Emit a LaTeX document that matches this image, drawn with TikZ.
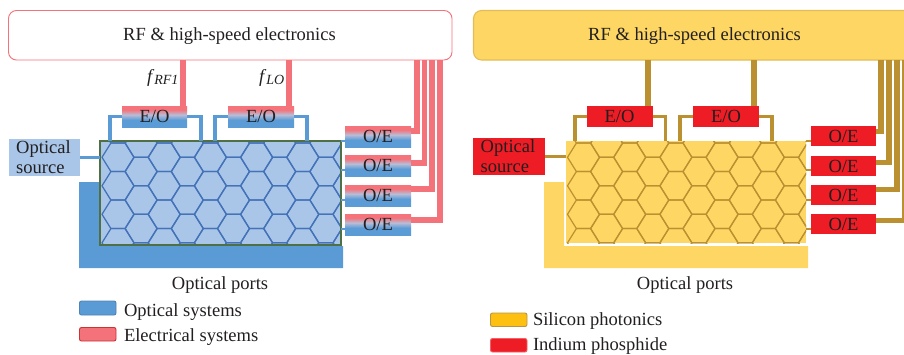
\documentclass[tikz,border=0pt]{standalone}
\usepackage{fontspec}
\setmainfont{Liberation Serif}
\usetikzlibrary{calc}
\definecolor{inkc}{HTML}{231F20}
\definecolor{optc}{HTML}{5B9BD5}
\definecolor{optl}{HTML}{A9C6E8}
\definecolor{elec}{HTML}{F4737A}
\definecolor{hexb}{HTML}{4472B8}
\definecolor{gold}{HTML}{FDD663}
\definecolor{goldb}{HTML}{E3BC58}
\definecolor{brn}{HTML}{BB9030}
\definecolor{inp}{HTML}{EE1C25}
\definecolor{sic}{HTML}{FDC010}
\definecolor{grnb}{HTML}{4F7045}
\pgfdeclareverticalshading{eograd}{100bp}{rgb(0bp)=(0.36,0.61,0.84);rgb(42bp)=(0.36,0.61,0.84);rgb(54bp)=(0.72,0.74,0.84);rgb(66bp)=(0.96,0.45,0.48);rgb(100bp)=(0.96,0.45,0.48)}
\newcommand{\pxbox}[7]{%
  \pgfmathsetmacro{\bw}{(#4-#2)*0.75}\pgfmathsetmacro{\bh}{(#5-#3)*0.75}%
  \node[#6,minimum width=\bw pt,minimum height=\bh pt] (#1) at ({(#2+#4)/2},{(#3+#5)/2}) {#7};}
\newcommand{\hexlat}[1]{%
  \foreach \k in {0,...,10}{%
    \pgfmathsetmacro{\cx}{#1+23.1*\k}%
    \pgfmathsetmacro{\off}{mod(\k,2)==0 ? 0 : 14.25}%
    \foreach \j in {-1,...,4}{%
      \pgfmathsetmacro{\cy}{157.3+\off+28.5*\j}%
      \draw[hexline] ({\cx-16},\cy) -- ({\cx-7.1},{\cy-14.25}) -- ({\cx+7.1},{\cy-14.25}) -- ({\cx+16},\cy) -- ({\cx+7.1},{\cy+14.25}) -- ({\cx-7.1},{\cy+14.25}) -- cycle;
    }}}
\newcommand{\srctext}{\begin{tabular}{@{}l@{}}Optical\\source\end{tabular}}
\tikzset{
  every node/.style={text=inkc,font=\fontsize{13.9}{14.6}\selectfont,inner sep=0pt,outer sep=0pt},
  eobox/.style={rectangle,shading=eograd},
  inpbox/.style={rectangle,fill=inp},
  srcl/.style={rectangle,fill=optl},
  srcr/.style={rectangle,fill=inp},
  elwire/.style={draw=elec,line width=4.4pt},
  opwire/.style={draw=optc,line width=2.4pt},
  opstub/.style={draw=optc,line width=1.7pt},
  brwire/.style={draw=brn,line width=4pt},
  brthin/.style={draw=brn,line width=2.4pt},
  brstub/.style={draw=brn,line width=1.7pt},
  hexline/.style={draw=hexb,line width=.95pt,line join=round},
  swatch/.style={rectangle,rounded corners=1.5pt,line width=.7pt},
  lbl/.style={anchor=base west},
}
\begin{document}
\begin{tikzpicture}[x=0.75pt,y=-0.75pt]
\useasboundingbox (0,0) rectangle (904,354);
% ---------- left panel
\fill[optc] (79,182) -- (99,182) -- (99,246) -- (343,246) -- (343,268) -- (79,268) -- cycle;
\pxbox{chipL}{100}{141}{341}{245}{rectangle,fill=optl}{}
\begin{scope}
\clip (100,141) rectangle (341,245);
\hexlat{118}
\end{scope}
\draw[grnb,line width=.8pt] (chipL.north west) rectangle (chipL.south east);
\pxbox{rfL}{8.5}{10.5}{452}{60}{rectangle,draw=elec,fill=white,rounded corners=6pt,line width=.7pt}{}
\node at (229.5,36) (rfLt) {RF \& high-speed electronics};
\pxbox{eoA}{122}{106}{187}{127}{eobox}{E/O}
\pxbox{eoB}{228}{106}{294}{127}{eobox}{E/O}
\foreach \n/\y in {oeA/126,oeB/155,oeC/185,oeD/214}{
  \pxbox{\n}{345}{\y}{411}{\y+21}{eobox}{O/E}
}
\pxbox{srcL}{9}{139}{80}{176}{srcl}{}
\node (srcLt) at (43.5,159.5) {\srctext};
\draw[elwire] (183,60) coordinate (a1) -- (a1 |- eoA.north);
\draw[elwire] (289,60) coordinate (a2) -- (a2 |- eoB.north);
\draw[opwire] (eoA.west) -| (110,141) coordinate (pa);
\draw[opwire] (eoA.east) -| (201,141);
\draw[opwire] (eoB.west) -| (215,141);
\draw[opwire] (eoB.east) -| (307,141);
\draw[draw=optc,line width=2.6pt] (srcL.east) -- (chipL.west |- srcL.east);
\foreach \n/\y in {oeA/141,oeB/170,oeC/200,oeD/229}{
  \draw[opstub] (341,\y) -- (\n.west |- 0,\y);
}
\draw[elwire,line join=miter] (417,60) -- (417,131) -- (oeA.east |- 0,131);
\draw[elwire,line join=miter] (424.5,60) -- (424.5,163) -- (oeB.east |- 0,163);
\draw[elwire,line join=miter] (432,60) -- (432,189) -- (oeC.east |- 0,189);
\draw[elwire,line join=miter] (440,60) -- (440,220) -- (oeD.east |- 0,220);
\node[anchor=base west] (fa) at (147,82) {\textit{f}\raisebox{-0.35ex}{\fontsize{10.5}{11}\selectfont\textit{RF1}}};
\node[anchor=base west] (fb) at (259,82) {\textit{f}\raisebox{-0.35ex}{\fontsize{10.5}{11}\selectfont\textit{LO}}};
\node (opL) at (220,285) {Optical ports};
\pxbox{swA}{79.5}{301}{116}{315}{swatch,fill=optc,draw=optc!85!black}{}
\pxbox{swB}{79.5}{327.5}{116}{341}{swatch,fill=elec,draw=red!75!black!80}{}
\node[lbl] (tA) at (124,316) {Optical systems};
\node[lbl] (tB) at (124,341.5) {Electrical systems};
% ---------- right panel
\fill[gold] (544,182) -- (564,182) -- (564,246) -- (808,246) -- (808,268) -- (544,268) -- cycle;
\pxbox{chipR}{566}{141}{806}{243}{rectangle,fill=gold}{}
\begin{scope}[hexline/.style={draw=brn,line width=.9pt,line join=round}]
\clip (566,141) rectangle (806,243);
\hexlat{583.5}
\end{scope}
\begin{scope}
\clip (0,0) rectangle (904,354);
\draw[goldb,fill=gold,line width=.8pt,rounded corners=6pt] (473.5,10.5) rectangle (920,60);
\end{scope}
\node (rfRt) at (694.5,36) {RF \& high-speed electronics};
\pxbox{eoC}{586.5}{106}{652.5}{127}{inpbox}{E/O}
\pxbox{eoE}{693}{106}{759}{127}{inpbox}{E/O}
\foreach \n/\y in {oeE/126,oeF/156,oeG/185,oeH/214}{
  \pxbox{\n}{811}{\y}{876}{\y+20}{inpbox}{O/E}
}
\pxbox{srcR}{473}{138}{544.5}{175}{srcr}{}
\node (srcRt) at (508,158.5) {\srctext};
\draw[brwire] (648,60) coordinate (b1) -- (b1 |- eoC.north);
\draw[brwire] (754,60) coordinate (b2) -- (b2 |- eoE.north);
\draw[brthin] (eoC.west) -| (575,141);
\draw[brthin] (eoC.east) -| (665.5,141);
\draw[brthin] (eoE.west) -| (680,141);
\draw[brthin] (eoE.east) -| (772,141);
\draw[draw=brn,line width=2.6pt] (srcR.east) -- (chipR.west |- srcR.east);
\foreach \n/\y in {oeE/141,oeF/170,oeG/200,oeH/229}{
  \draw[brstub] (806,\y) -- (\n.west |- 0,\y);
}
\draw[brwire] (881,60) -- (881,131.5) -- (oeE.east |- 0,131.5);
\draw[brwire] (889,60) -- (889,162.5) -- (oeF.east |- 0,162.5);
\draw[brwire] (897,60) -- (897,189.5) -- (oeG.east |- 0,189.5);
\begin{scope}
\clip (0,0) rectangle (904,354);
\draw[brwire] (905,60) -- (905,220.5) -- (oeH.east |- 0,220.5);
\end{scope}
\node (opR) at (685,285) {Optical ports};
\pxbox{swC}{490.5}{313}{527}{326.5}{swatch,fill=sic,draw=goldb!80!black}{}
\pxbox{swD}{490.5}{338.5}{527}{352}{swatch,fill=inp,draw=inp!70!white}{}
\node[lbl] (tC) at (533,325.5) {Silicon photonics};
\node[lbl] (tD) at (533,350) {Indium phosphide};
\end{tikzpicture}
\end{document}
